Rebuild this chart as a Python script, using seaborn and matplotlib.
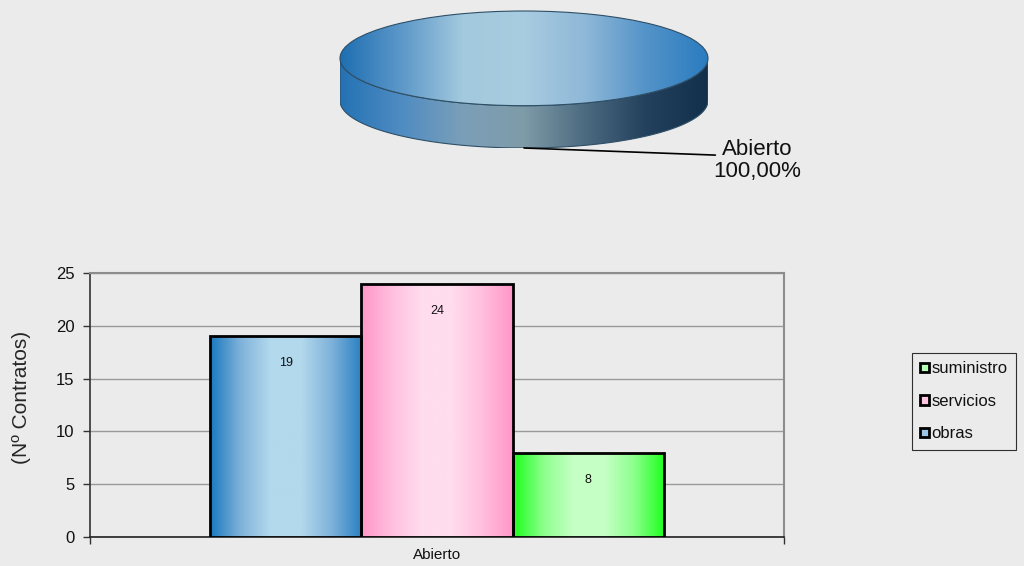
import numpy as np
import pandas as pd
import matplotlib
matplotlib.use('Agg')
import matplotlib.pyplot as plt
from matplotlib.colors import LinearSegmentedColormap
from matplotlib.patches import Polygon, Patch
import seaborn as sns

# data
tipos = ['Abierto']
clases = ['obras', 'servicios', 'suministro']
contratos = [19, 24, 8]
pie_labels = ['Abierto']
pie_vals = [100.0]

bg = '#ebebeb'
sns.set_theme(style='white')
plt.rcParams['font.family'] = ['Liberation Sans', 'DejaVu Sans']

# gradient colours (edge, centre, edge)
grads = {
    'obras': ['#1a78be', '#7fb2da', '#b3d9ed', '#b3d9ed', '#7fb2da', '#2a80c2'],
    'servicios': ['#ff96c8', '#ffbfde', '#ffdcee', '#ffdcee', '#ffbfde', '#ff96c8'],
    'suministro': ['#1cff1c', '#8cff8c', '#c6ffc6', '#c6ffc6', '#8cff8c', '#1cff1c'],
}
legend_cols = {'obras': '#9dc6e6', 'servicios': '#ffc4e0', 'suministro': '#b4ffb4'}

fig = plt.figure(figsize=(10.24, 5.66), dpi=100)
fig.patch.set_facecolor(bg)


def grad_fill(ax, patch, colors, extent):
    cmap = LinearSegmentedColormap.from_list('g', colors)
    img = ax.imshow(np.linspace(0, 1, 256).reshape(1, -1), cmap=cmap, aspect='auto',
                    extent=extent, interpolation='bilinear', zorder=patch.get_zorder() - 0.01)
    img.set_clip_path(patch)
    return img


# ---------------- bar chart ----------------
df = pd.DataFrame({'tipo': tipos * len(clases), 'clase': clases, 'n': contratos})
ax = fig.add_axes([90 / 1024, 29 / 566, 694 / 1024, 264 / 566])
ax.set_facecolor(bg)
sns.barplot(data=df, x='tipo', y='n', hue='clase', hue_order=clases,
            palette=[legend_cols[c] for c in clases], width=0.653,
            edgecolor='black', linewidth=2.0, legend=False, ax=ax)

for cont, clase in zip(ax.containers, clases):
    for bar, val in zip(cont, [contratos[clases.index(clase)]]):
        x0, y0 = bar.get_x(), bar.get_y()
        w, h = bar.get_width(), bar.get_height()
        bar.set_zorder(3)
        grad_fill(ax, bar, grads[clase], (x0, x0 + w, y0, y0 + h))
        bar.set_facecolor((0, 0, 0, 0))
        ax.annotate(str(val), (x0 + w / 2, y0 + h), xytext=(0, -27), textcoords='offset pixels',
                    ha='center', va='center', fontsize=9, color='#111111', zorder=5)

ax.set_xlim(-0.5, 0.5)
ax.set_ylim(0, 25)
ax.set_yticks([0, 5, 10, 15, 20, 25])
ax.yaxis.grid(True, color='#9a9a9a', linewidth=1)
ax.set_axisbelow(True)
ax.set_xlabel('')
ax.set_ylabel('(Nº Contratos)', fontsize=15, labelpad=14)
ax.yaxis.set_label_coords(-0.085, 0.53)
ax.tick_params(axis='y', labelsize=12, direction='out', length=5, width=1, color='#333333', pad=6, left=True,
               labelcolor='#111111')
ax.tick_params(axis='x', labelsize=11, length=0, pad=8, labelcolor='#111111')
ax.set_xticks([-0.5, 0.5], minor=True)
ax.tick_params(axis='x', which='minor', direction='out', length=5, width=1, color='#333333', bottom=True)
for s in ['top', 'right']:
    ax.spines[s].set_color('#8c8c8c')
    ax.spines[s].set_linewidth(1.5)
ax.spines['left'].set_color('#333333')
ax.spines['bottom'].set_color('#222222')
ax.spines['left'].set_linewidth(1.2)
ax.spines['bottom'].set_linewidth(1.2)

handles = [Patch(facecolor=legend_cols[c], edgecolor='black', linewidth=2.0, label=c)
           for c in reversed(clases)]
leg = fig.legend(handles=handles, loc='upper left', bbox_to_anchor=(912 / 1024, 1 - 353 / 566),
                 fontsize=12, frameon=True, fancybox=False, handlelength=0.5, handleheight=0.5,
                 handletextpad=0.15, labelspacing=1.05, borderpad=0.5, borderaxespad=0)
leg.get_frame().set_edgecolor('black')
leg.get_frame().set_linewidth(0.8)
leg.get_frame().set_facecolor(bg)
for txt in leg.get_texts():
    txt.set_color('#111111')

# ---------------- 3D-looking pie ----------------
depth = 42 / 47
pax = fig.add_axes([340 / 1024, (566 - 148) / 566, 368 / 1024, 137 / 566])
wedges, _ = pax.pie(pie_vals, labels=None, startangle=90, radius=1,
                    wedgeprops=dict(edgecolor='#2f4f66', linewidth=0.8))
pax.set_aspect('auto')
pax.set_xlim(-1, 1)
pax.set_ylim(-1 - depth, 1)
pax.axis('off')

t = np.linspace(np.pi, 2 * np.pi, 200)
side_pts = np.vstack([np.column_stack([np.cos(t), np.sin(t)]),
                      np.column_stack([np.cos(t[::-1]), np.sin(t[::-1]) - depth])])
side = Polygon(side_pts, closed=True, facecolor='none', edgecolor='#2f4f66', linewidth=0.8, zorder=1)
pax.add_patch(side)
grad_fill(pax, side, ['#2472b4', '#4f8cc2', '#7b9fb9', '#7f9ba8', '#4c6a80', '#23405c', '#12304c'],
          (-1, 1, -1 - depth, 0))

w = wedges[0]
w.set_zorder(2)
grad_fill(pax, w, ['#1e6fb2', '#5d98c9', '#a3c9de', '#a8cce0', '#8fb8d8', '#5393c8', '#2b7cc0'],
          (-1, 1, -1, 1))
w.set_facecolor((0, 0, 0, 0))

# leader line and label
pax.plot([0, 1.04], [-1 - depth, -1 - depth - 0.15], color='black', linewidth=1.2, clip_on=False, zorder=4)
pax.text(1.27, -1 - depth - 0.27, '%s\n%s' % (pie_labels[0], '100,00%'),
         ha='center', va='center', fontsize=16, linespacing=1.05, color='#111111', clip_on=False)

fig.savefig('out.png', dpi=100, facecolor=bg)
